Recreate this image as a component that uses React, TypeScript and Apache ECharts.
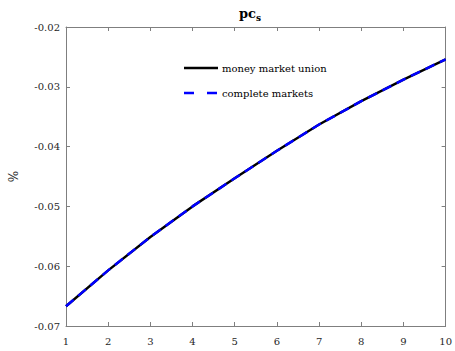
import React, { useEffect, useRef } from "react";
import * as echarts from "echarts";

const periods = [1, 2, 3, 4, 5, 6, 7, 8, 9, 10];
const moneyMarketUnion = [-0.0667, -0.0607, -0.0551, -0.05, -0.0453, -0.0407, -0.0363, -0.0324, -0.0288, -0.0254];
const completeMarkets = [-0.0667, -0.0607, -0.0551, -0.05, -0.0453, -0.0407, -0.0363, -0.0324, -0.0288, -0.0254];
const seriesNames = ["money market union", "complete markets"];

const FONT = "'DejaVu Serif', 'Liberation Serif', serif";

export default function App() {
  const ref = useRef<HTMLDivElement>(null);
  useEffect(() => {
    document.body.style.margin = "0";
    const chart = echarts.init(ref.current!, null, { renderer: "svg" });
    const axisColor = "#7f7f7f";
    const labelColor = "#262626";
    const toPairs = (ys: number[]) => periods.map((x, i) => [x, ys[i]]);
    chart.setOption({
      animation: false,
      backgroundColor: "#ffffff",
      textStyle: { fontFamily: FONT },
      title: {
        text: "{a|pc}{b|s}",
        left: 245,
        top: 0,
        textAlign: "center",
        textStyle: {
          rich: {
            a: { fontFamily: FONT, fontWeight: "bold", fontSize: 13, color: "#000" },
            b: { fontFamily: FONT, fontWeight: "bold", fontSize: 9, color: "#000", verticalAlign: "bottom", padding: [8, 0, 0, 0] },
          },
        },
      },
      graphic: [
        { type: "line", shape: { x1: 184, y1: 68, x2: 218, y2: 68 }, style: { stroke: "#000", lineWidth: 2.5 } },
        { type: "text", x: 222, y: 68, style: { text: seriesNames[0], font: "10px " + FONT, fill: "#000", verticalAlign: "middle" } },
        { type: "line", shape: { x1: 184, y1: 93, x2: 218, y2: 93 }, style: { stroke: "#0000ff", lineWidth: 2.5, lineDash: [10, 13] } },
        { type: "text", x: 222, y: 93, style: { text: seriesNames[1], font: "10px " + FONT, fill: "#000", verticalAlign: "middle" } },
      ],
      grid: { left: 62, right: 3, top: 27, bottom: 25 },
      xAxis: [
        {
          type: "value",
          min: 1,
          max: 10,
          interval: 1,
          axisLine: { show: true, lineStyle: { color: axisColor, width: 1 } },
          axisTick: { show: true, inside: true, length: 4, lineStyle: { color: axisColor } },
          axisLabel: { fontFamily: FONT, fontSize: 10, color: labelColor, margin: 10 },
          splitLine: { show: false },
        },
        {
          type: "value",
          position: "top",
          min: 1,
          max: 10,
          interval: 1,
          axisLine: { show: true, lineStyle: { color: axisColor, width: 1 } },
          axisTick: { show: true, inside: true, length: 4, lineStyle: { color: axisColor } },
          axisLabel: { show: false },
          splitLine: { show: false },
        },
      ],
      yAxis: [
        {
          type: "value",
          name: "%",
          nameLocation: "middle",
          nameGap: 46,
          nameTextStyle: { fontFamily: FONT, fontSize: 12, color: labelColor },
          min: -0.07,
          max: -0.02,
          interval: 0.01,
          axisLine: { show: true, lineStyle: { color: axisColor, width: 1 } },
          axisTick: { show: true, inside: true, length: 4, lineStyle: { color: axisColor } },
          axisLabel: { fontFamily: FONT, fontSize: 10, color: labelColor, margin: 6, formatter: (v: number) => v.toFixed(2) },
          splitLine: { show: false },
        },
        {
          type: "value",
          position: "right",
          min: -0.07,
          max: -0.02,
          interval: 0.01,
          axisLine: { show: true, lineStyle: { color: axisColor, width: 1 } },
          axisTick: { show: true, inside: true, length: 4, lineStyle: { color: axisColor } },
          axisLabel: { show: false },
          splitLine: { show: false },
        },
      ],
      series: [
        {
          name: seriesNames[0],
          type: "line",
          data: toPairs(moneyMarketUnion),
          symbol: "none",
          lineStyle: { color: "#000000", width: 2.5 },
          itemStyle: { color: "#000000" },
        },
        {
          name: seriesNames[1],
          type: "line",
          data: toPairs(completeMarkets),
          symbol: "none",
          lineStyle: { color: "#0000ff", width: 2.5, type: [10, 6] },
          itemStyle: { color: "#0000ff" },
        },
      ],
    });
    return () => chart.dispose();
  }, []);
  return <div ref={ref} style={{ width: 455, height: 351 }} />;
}
